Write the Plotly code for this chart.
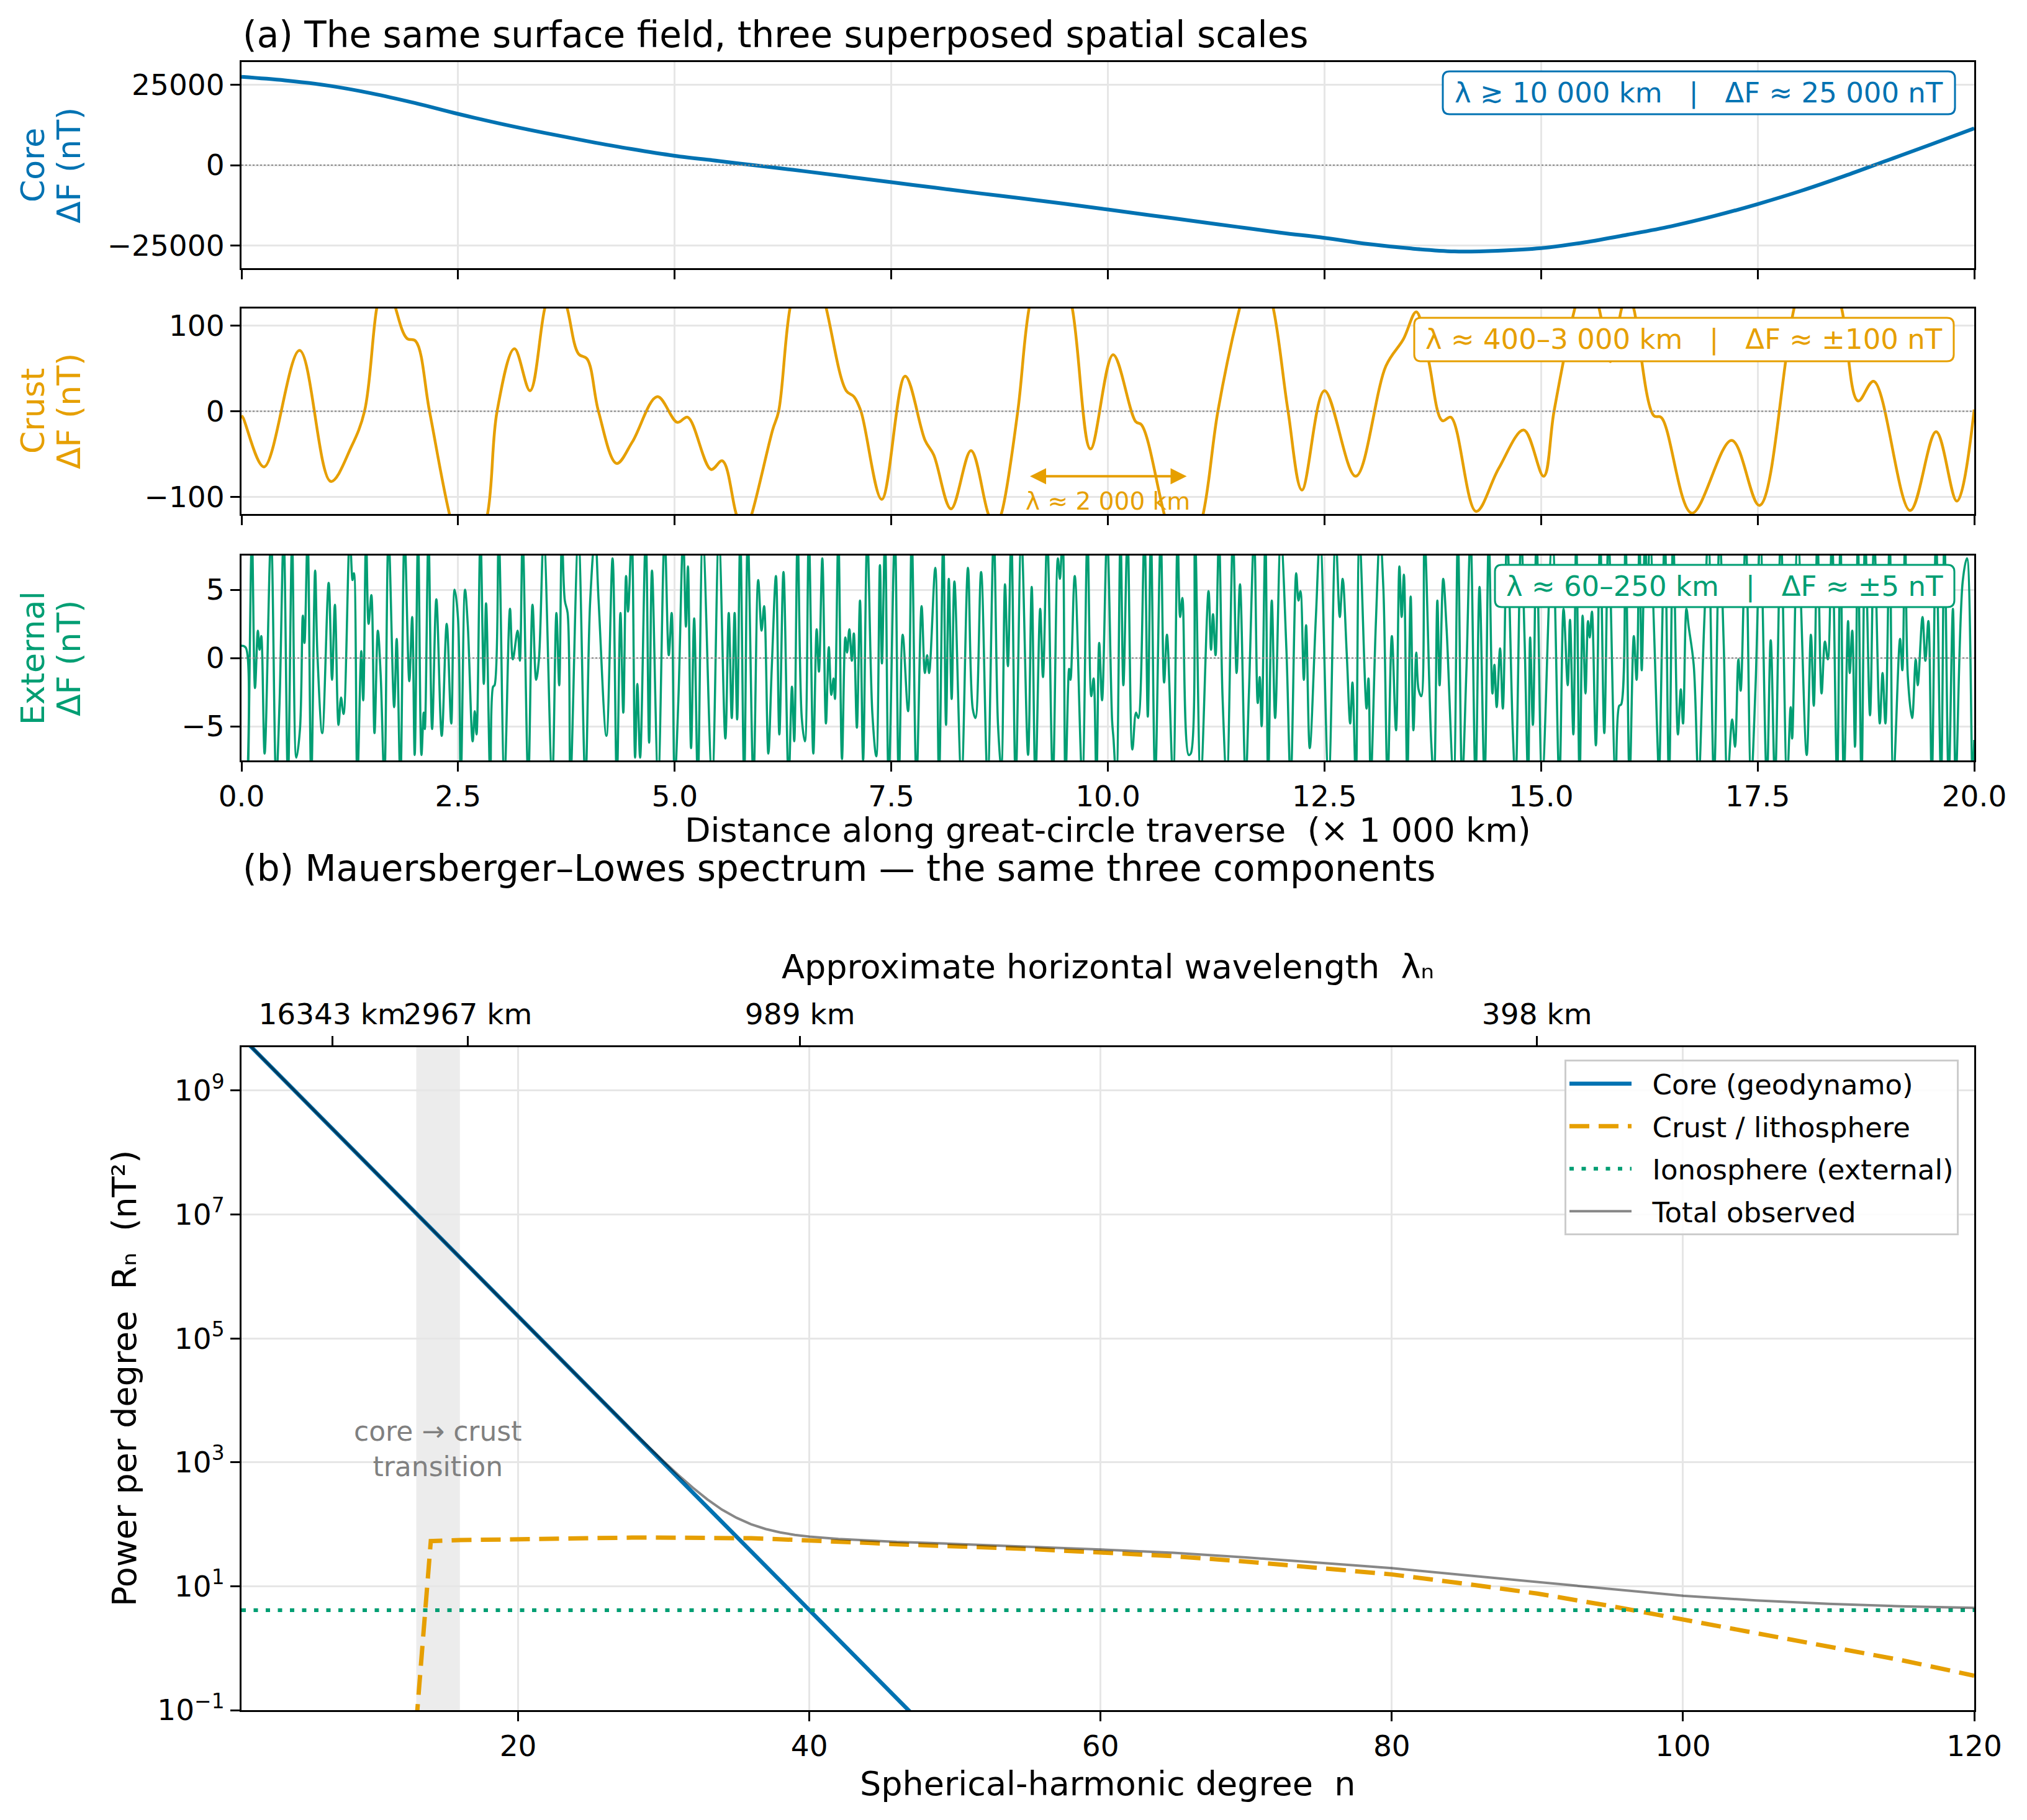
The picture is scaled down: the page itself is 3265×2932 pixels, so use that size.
import plotly.graph_objects as go

# ---------------- data ----------------
dist_core = [0, 0.5, 1, 1.5, 2, 2.5, 3, 3.5, 4, 4.5, 5, 5.5, 6, 6.5, 7, 7.5, 8, 8.5, 9, 9.5,
             10, 10.5, 11, 11.5, 12, 12.5, 13, 13.5, 14, 14.5, 15, 15.5, 16, 16.5, 17, 17.5,
             18, 18.5, 19, 19.5, 20]
core_dF = [27400, 26300, 24700, 22300, 19300, 15900, 12800, 10000, 7400, 5000, 2900, 1300, -300,
           -1900, -3600, -5300, -7000, -8700, -10300, -12000, -13800, -15600, -17400, -19200,
           -21000, -22600, -24500, -25900, -26800, -26600, -25800, -24000, -21600, -19000,
           -15800, -12100, -8000, -3400, 1500, 6400, 11400]

crust_x = [0.0, 0.02, 0.26, 0.67, 1.03, 1.27, 1.42, 1.56, 1.67, 1.78, 1.91, 2.01, 2.17, 2.40,
           2.62, 2.84, 2.95, 3.15, 3.33, 3.50, 3.63, 3.76, 3.89, 3.99, 4.12, 4.33, 4.51, 4.80,
           5.03, 5.15, 5.42, 5.55, 5.71, 5.80, 5.89, 6.13, 6.20, 6.33, 6.54, 6.75, 6.98, 7.07,
           7.15, 7.39, 7.66, 7.89, 7.99, 8.19, 8.42, 8.62, 8.70, 8.77, 8.96, 9.09, 9.34, 9.59,
           9.80, 10.06, 10.32, 10.39, 10.65, 10.87, 11.10, 11.27, 11.52, 11.72, 11.91, 12.08,
           12.24, 12.50, 12.86, 13.21, 13.41, 13.56, 13.70, 13.86, 13.96, 14.25, 14.51, 14.80,
           15.03, 15.15, 15.39, 15.53, 15.67, 15.80, 15.93, 16.00, 16.07, 16.30, 16.39, 16.74,
           17.20, 17.52, 17.92, 18.20, 18.47, 18.66, 18.84, 19.26, 19.56, 19.80, 20.0]
crust_dF = [-5, -8, -65, 71, -82, -41, 0, 120, 170, 120, 85, 82, 0, -120,
            -200, -120, 0, 73, 24, 120, 165, 120, 67, 61, 0, -61, -36, 17,
            -13, -7, -68, -58, -120, -145, -120, -22, 0, 120, 210, 120, 24, 17,
            0, -103, 41, -34, -51, -114, -46, -120, -135, -120, 0, 120, 230, 120,
            -44, 66, -12, -16, -120, -200, -120, 0, 120, 190, 120, 0,
            -92, 24, -76, 53, 84, 116, 60, -11, -7, -117, -67, -22,
            -76, 0, 120, 165, 120, 58, 120, 140, 120, -5, -7.5, -119,
            -34, -110, 120, 220, 120, 12, 35, -116, -24, -105, 2]

ext_x = [0.0, 0.049, 0.072, 0.120, 0.156, 0.189, 0.208, 0.228, 0.267, 0.341, 0.400, 0.439, 0.487,
         0.536, 0.584, 0.633, 0.675, 0.708, 0.727, 0.763, 0.805, 0.850, 0.876, 0.932, 1.006, 1.045,
         1.078, 1.120, 1.149, 1.178, 1.250, 1.282, 1.298, 1.337, 1.383, 1.405, 1.438, 1.467, 1.499,
         1.535, 1.574, 1.606, 1.649, 1.697, 1.762, 1.791, 1.834, 1.882, 1.937, 1.970, 1.999, 2.038,
         2.077, 2.103, 2.116, 2.158, 2.200, 2.249, 2.311, 2.369, 2.421, 2.460, 2.499, 2.531, 2.580,
         2.612, 2.668, 2.693, 2.713, 2.758, 2.797, 2.823, 2.872, 2.904, 2.921, 2.969, 3.034, 3.099,
         3.132, 3.187, 3.213, 3.245, 3.310, 3.359, 3.401, 3.433, 3.489, 3.586, 3.635, 3.667, 3.699,
         3.732, 3.764, 3.797, 3.888, 3.969, 4.024, 4.082, 4.121, 4.212, 4.283, 4.332, 4.374, 4.407,
         4.439, 4.462, 4.504, 4.543, 4.569, 4.601, 4.666, 4.705, 4.738, 4.809, 4.884, 4.932, 4.965,
         5.000, 5.043, 5.098, 5.130, 5.153, 5.189, 5.225, 5.267, 5.325, 5.432, 5.510, 5.585, 5.624,
         5.659, 5.692, 5.721, 5.757, 5.802, 5.844, 5.909, 5.964, 6.003, 6.032, 6.081, 6.120, 6.169,
         6.208, 6.256, 6.315, 6.354, 6.380, 6.419, 6.467, 6.503, 6.548, 6.600, 6.639, 6.665, 6.704,
         6.746, 6.779, 6.808, 6.834, 6.850, 6.889, 6.931, 6.970, 6.990, 7.016, 7.045, 7.068, 7.103,
         7.139, 7.175, 7.223, 7.282, 7.327, 7.369, 7.392, 7.428, 7.470, 7.541, 7.587, 7.632, 7.694,
         7.736, 7.791, 7.850, 7.888, 7.914, 7.937, 8.008, 8.051, 8.100, 8.132, 8.164, 8.197, 8.229,
         8.310, 8.385, 8.440, 8.472, 8.537, 8.612, 8.683, 8.732, 8.770, 8.813, 8.846, 8.885, 8.936,
         9.001, 9.079, 9.121, 9.164, 9.219, 9.251, 9.300, 9.365, 9.423, 9.446, 9.478, 9.511, 9.553,
         9.569, 9.618, 9.705, 9.764, 9.809, 9.835, 9.868, 9.900, 9.933, 9.991, 10.049, 10.065,
         10.098, 10.146, 10.179, 10.227, 10.283, 10.325, 10.351, 10.422, 10.461, 10.497, 10.546,
         10.610, 10.649, 10.682, 10.753, 10.805, 10.834, 10.860, 10.932, 10.957, 11.006, 11.071,
         11.162, 11.191, 11.214, 11.243, 11.282, 11.324, 11.373, 11.444, 11.486, 11.525, 11.590,
         11.629, 11.688, 11.730, 11.753, 11.775, 11.818, 11.850, 11.892, 11.931, 11.996, 12.061,
         12.110, 12.174, 12.200, 12.223, 12.262, 12.288, 12.330, 12.401, 12.450, 12.548, 12.629,
         12.677, 12.710, 12.758, 12.797, 12.823, 12.862, 12.904, 12.986, 13.008, 13.034, 13.093,
         13.141, 13.180, 13.229, 13.278, 13.326, 13.365, 13.391, 13.417, 13.456, 13.495, 13.527,
         13.560, 13.586, 13.618, 13.655, 13.732, 13.764, 13.803, 13.829, 13.871, 13.910, 13.991,
         14.040, 14.089, 14.137, 14.186, 14.244, 14.290, 14.348, 14.397, 14.439, 14.462, 14.488,
         14.527, 14.559, 14.608, 14.673, 14.705, 14.770, 14.809, 14.851, 14.874, 14.906, 14.948,
         15.013, 15.130, 15.211, 15.260, 15.308, 15.334, 15.373, 15.406, 15.445, 15.480, 15.513,
         15.542, 15.562, 15.587, 15.633, 15.682, 15.730, 15.779, 15.860, 15.902, 15.925, 15.974,
         16.022, 16.071, 16.103, 16.136, 16.162, 16.201, 16.228, 16.256, 16.347, 16.360, 16.428,
         16.477, 16.525, 16.580, 16.613, 16.639, 16.678, 16.704, 16.762, 16.817, 16.882, 16.931,
         16.996, 17.061, 17.109, 17.151, 17.206, 17.239, 17.278, 17.304, 17.362, 17.424, 17.476,
         17.531, 17.606, 17.651, 17.700, 17.768, 17.839, 17.881, 17.898, 17.963, 18.066, 18.115,
         18.148, 18.190, 18.238, 18.277, 18.310, 18.358, 18.417, 18.456, 18.495, 18.544, 18.563,
         18.592, 18.624, 18.657, 18.699, 18.741, 18.797, 18.845, 18.910, 18.942, 18.975, 19.024,
         19.066, 19.144, 19.170, 19.202, 19.234, 19.283, 19.325, 19.348, 19.403, 19.436, 19.471,
         19.510, 19.559, 19.617, 19.656, 19.705, 19.754, 19.786, 19.867, 19.916, 19.981, 20.0]
ext_dF = [0.9, 0.76, -9, 9, -2.2, 2.0, 0.6, 1.6, -7.0, 9, -9, -3.3, 9,
          -9, 8.5, -7.3, -5.2, 3.1, 1.1, 9, -9, 6.4, 0.3, -5.5, 5.5, -1.6,
          3.9, -4.9, -2.9, -4.1, 9, 5.7, 6.2, -9, 0.5, -3.1, 9, 2.5, 4.6,
          -5.5, 2.0, -1.2, -9, 9, -3.6, 1.4, -9, 9, -1.7, 3.0, -7.1, 9,
          -7.1, -4.0, -5.2, 9, -5.2, 4.3, -5.7, 2.5, -4.8, 5.0, 2.9, -9, 5.0,
          2.4, -6.1, -3.9, -5.6, 9, -1.9, 4.0, -9, -2.1, -2.0, 9, -9, 3.6,
          -0.1, 2.0, -0.2, 9, -9, 3.9, -1.6, -0.1, 9, -9, 3.3, -2.0, 9,
          4.2, 3.3, -9, 9, -9, 4.1, 9, 4.3, -5.7, 7.3, -9, 3.3, -4.0,
          6.0, 3.4, 9, -7.3, -1.9, -7.3, 9, -6.2, 6.4, -9, 9, 0.2, 3.3,
          -9, -3.0, 9, 2.3, 6.7, -6.6, 2.9, -9, 9, -9, 9, -5.9, 3.3,
          -4.4, 3.3, -4.5, 9, -9, 9, -9, 5.7, 2.0, 3.8, -7.0, -0.8, 6.0,
          -5.6, 6.3, -9, -2.1, -6.1, 9, -4.4, -6.1, 9, -7.0, 2.1, -1.0, 7.3,
          -4.8, 0.8, -2.7, -1.5, -3.0, 9, -7.4, 1.5, 0.4, 2.1, -0.2, 1.8, -5.1,
          4.2, -7.5, 9, -4.1, -7.2, 6.8, -0.4, 9, -9, 9, -9, 1.7, -3.9,
          9, -9, 3.8, -1.1, 0.2, -1.1, 6.6, -9, 9, -4.9, 5.8, -3.0, 5.6,
          -9, 6.6, -3.7, -4.4, 6.3, -9, 9, -4.9, -8, 5.4, -0.6, 9, -9,
          9, -7.1, 5.2, -9, 3.6, -1.4, 9, -9, 7.3, 5.8, 9, -9, -0.8,
          -1.6, 6.0, -9, 9, -2.8, -1.5, -9, 1.1, -3.1, 9, -4.6, -5.9,
          -9, 9, -2.0, 9, -6.7, -4.0, -4.4, 9, -4.3, 9, -9,
          9, -1.8, 1.7, -9, 9, 3.0, 4.4, -7.1, -7.0, 9, -9,
          4.9, 0.6, 3.2, 0.2, 9, -2.9, -9, 9, -1.1, 5.4, -9,
          -2.4, 9, -3.3, -1.4, -5.0, 9, -9, 4.2, -4.4, 9, 0.6,
          -9, 6.2, 4.2, 4.9, -1.6, 2.4, -6.6, 3.0, 9, -9, 9,
          3.0, 5.8, 0.2, -4.8, -1.8, -9, 9, -3.7, -1.5, -9, 2.5,
          9, 5.1, -9, 1.6, -5.3, 6.7, 3.0, 6.1, -9, 4.5, -5.3,
          0.4, -2.3, -2.8, 9, -6.1, -9, 4.2, -2.0, 5.8, 2.1, -9,
          9, -9, -1.2, 9, -9, 5.2, -9, 9, -2.6, -0.5, -3.6,
          0.7, -3.7, 9, -5.2, -9, 9, 1.6, -9, 1.5, -4.9, 9,
          -9, 9, -9, 3.6, -2.0, 2.8, -5.6, 9, -9, 3.1, -2.6,
          2.7, 1.5, 3.4, -6.4, 9, -5.5, 9, -9, -3.5, -3.4, 9,
          -9, 1.6, -1.6, 9, -0.9, 9, 4, 9, -6.7, -9, 9,
          -9, 9, -5.6, -2.3, -4.8, 3.6, 2.3, -0.5, -9, 2.3, 9,
          -9, 9, 0.9, -9, -4.5, -6.5, -0.1, -2.4, 9, -9, -2.0,
          9, -9, 1.3, -9, 9, -9, -3.6, -5.9, 9, -7.1, 1.7,
          -3.5, 9, -2.6, 1.2, -0.1, 9, -9, 9, -9, 2.7, -1.1,
          2.0, -6.5, 9, -9, 9, -4.2, 9, -4.8, -1.1, -4.8, 9,
          -9, 1.4, -0.9, 9, -1.4, -4.4, -0.1, -2.0, 3.0, -0.2, 2.7,
          -9, 9, -9, 9, -9, 3.6, -9, 5.6, 7.3, -9, -6]

# spectrum (degree n, power per degree in nT^2)
deg = [1, 5, 10, 13, 14, 16, 20, 25, 28, 29, 30, 31, 32, 33, 34, 35, 36, 37, 38, 39, 40,
       42, 44, 46, 48, 50, 55, 60, 65, 70, 75, 80, 85, 90, 95, 100, 105, 110, 115, 120]
R_core = [7.3e9, 8.2e8, 5.35e7, 1.04e7, 6.0e6, 2.0e6, 2.27e5, 1.48e4, 2870, 1663, 964, 558,
          324, 187, 108, 62.8, 36.4, 21.1, 12.2, 7.07, 4.09, 1.37, 0.46, 0.155, 0.052,
          None, None, None, None, None, None, None, None, None, None, None, None, None, None, None]
R_crust = [None, None, None, 0.06, 53.5, 55.5, 58, 60.5, 61, 61, 61, 61, 60.8, 60.5, 60.3,
           60, 59.5, 58.5, 57.5, 56.3, 55, 52.5, 50, 47.5, 46, 44, 40, 35, 30.5, 25, 19.8,
           15.5, 11, 7.6, 4.8, 2.9, 1.8, 1.1, 0.64, 0.36]
R_total = [7.3e9, 8.2e8, 5.35e7, 1.04e7, 6.0e6, 2.0e6, 2.27e5, 1.49e4, 2935, 1728, 1029, 623,
           389, 251, 172, 127, 100, 83.7, 73.8, 67.4, 63.2, 58, 54.5, 51.8, 50.2, 48.1, 44.1,
           39.1, 34.6, 29.1, 23.9, 19.6, 15.1, 11.7, 8.9, 7.0, 5.9, 5.2, 4.74, 4.46]
iono_n = [1, 120]
R_iono = [4.1, 4.1]

top_tick_pos = [7.23, 16.54, 39.36, 89.97]
top_tick_txt = ["16343 km", "2967 km", "989 km", "398 km"]

BLUE, ORANGE, GREEN = "#0072B2", "#E69F00", "#009E73"
FONT = "DejaVu Sans"

# ---------------- layout helpers ----------------
W, H = 3265, 2932
def px(x): return x / W
def py(y): return 1 - y / H

XD = [px(389), px(3180)]
axis_common = dict(showline=True, linecolor="black", linewidth=3, mirror=True,
                   ticks="outside", ticklen=15, tickwidth=3, tickcolor="black",
                   showgrid=True, gridcolor="#e6e6e6", gridwidth=2.5, zeroline=False,
                   tickangle=0, automargin=False,
                   tickfont=dict(size=47, color="black", family=FONT))

fig = go.Figure()

fig.add_trace(go.Scatter(x=dist_core, y=core_dF, mode="lines", xaxis="x", yaxis="y",
                         line=dict(color=BLUE, width=6, shape="spline"), showlegend=False))
fig.add_trace(go.Scatter(x=crust_x, y=crust_dF, mode="lines", xaxis="x2", yaxis="y2",
                         line=dict(color=ORANGE, width=4.5, shape="spline"), showlegend=False))
fig.add_trace(go.Scatter(x=ext_x, y=ext_dF, mode="lines", xaxis="x3", yaxis="y3",
                         line=dict(color=GREEN, width=3.5, shape="spline"), showlegend=False))

PAD = "\u00a0\u00a0"
fig.add_trace(go.Scatter(x=deg, y=R_core, mode="lines", xaxis="x4", yaxis="y4",
                         name=PAD + "Core (geodynamo)", legendgroup="a",
                         line=dict(color=BLUE, width=6.5)))
fig.add_trace(go.Scatter(x=deg, y=R_crust, mode="lines", xaxis="x4", yaxis="y4",
                         name=PAD + "Crust / lithosphere", legendgroup="b",
                         line=dict(color=ORANGE, width=7, dash="32px,15px")))
fig.add_trace(go.Scatter(x=iono_n, y=R_iono, mode="lines", xaxis="x4", yaxis="y4",
                         name=PAD + "Ionosphere (external)", legendgroup="c",
                         line=dict(color=GREEN, width=6, dash="7px,12.5px")))
fig.add_trace(go.Scatter(x=deg, y=R_total, mode="lines", xaxis="x4", yaxis="y4",
                         name=PAD + "Total observed", legendgroup="d",
                         line=dict(color="rgba(0,0,0,0.47)", width=4)))
# carrier trace for the top (wavelength) axis
fig.add_trace(go.Scatter(x=[1, 120], y=[1, 1], mode="lines", xaxis="x5", yaxis="y4",
                         line=dict(width=0, color="rgba(0,0,0,0)"), showlegend=False,
                         hoverinfo="skip"))

xt = [0, 2.5, 5, 7.5, 10, 12.5, 15, 17.5, 20]
xtt = ["0.0", "2.5", "5.0", "7.5", "10.0", "12.5", "15.0", "17.5", "20.0"]

layout = dict(
    width=W, height=H, margin=dict(l=0, r=0, t=0, b=0, autoexpand=False),
    paper_bgcolor="white", plot_bgcolor="white",
    font=dict(family=FONT, color="black", size=46),
    xaxis=dict(axis_common, domain=XD, anchor="y", range=[0, 20], tickvals=xt, showticklabels=False),
    yaxis=dict(axis_common, domain=[py(432), py(100)], anchor="x", range=[-32000, 32000],
               tickvals=[-25000, 0, 25000], ticktext=["\u221225000", "0", "25000"]),
    xaxis2=dict(axis_common, domain=XD, anchor="y2", range=[0, 20], tickvals=xt, showticklabels=False),
    yaxis2=dict(axis_common, domain=[py(828), py(497)], anchor="x2", range=[-120, 120],
                tickvals=[-100, 0, 100], ticktext=["\u2212100", "0", "100"]),
    xaxis3=dict(axis_common, domain=XD, anchor="y3", range=[0, 20], tickvals=xt, ticktext=xtt),
    yaxis3=dict(axis_common, domain=[py(1225), py(895)], anchor="x3", range=[-7.5, 7.5],
                tickvals=[-5, 0, 5], ticktext=["\u22125", "0", "5"]),
    xaxis4=dict(axis_common, domain=XD, anchor="y4", range=[1, 120],
                tickvals=[20, 40, 60, 80, 100, 120], ticktext=["20", "40", "60", "80", "100", "120"]),
    yaxis4=dict(axis_common, domain=[py(2755), py(1687)], anchor="x4", type="log", range=[-1, 9.7],
                tickvals=[0.1, 10, 1e3, 1e5, 1e7, 1e9],
                ticktext=["10<sup>\u22121</sup>", "10<sup>1</sup>", "10<sup>3</sup>",
                          "10<sup>5</sup>", "10<sup>7</sup>", "10<sup>9</sup>"]),
    xaxis5=dict(axis_common, overlaying="x4", anchor="y4", side="top", range=[1, 120],
                showgrid=False, mirror=False, tickvals=top_tick_pos, ticktext=top_tick_txt),
    legend=dict(x=px(3155), y=py(1707), xanchor="right", yanchor="top",
                bgcolor="rgba(255,255,255,0.85)", bordercolor="#cccccc", borderwidth=3,
                font=dict(size=45, family=FONT, color="black"), itemwidth=100,
                traceorder="grouped", tracegroupgap=7),
)
fig.update_layout(**layout)

def rrect(x0, y0, x1, y1, r=11):
    """rounded rectangle path in paper coords from pixel box"""
    def P(x, y): return f"{px(x):.6f},{py(y):.6f}"
    return (f"M {P(x0 + r, y0)} L {P(x1 - r, y0)} Q {P(x1, y0)} {P(x1, y0 + r)} "
            f"L {P(x1, y1 - r)} Q {P(x1, y1)} {P(x1 - r, y1)} L {P(x0 + r, y1)} "
            f"Q {P(x0, y1)} {P(x0, y1 - r)} L {P(x0, y0 + r)} Q {P(x0, y0)} {P(x0 + r, y0)} Z")

shapes = []
for yr in ["y", "y2", "y3"]:
    xr = {"y": "x", "y2": "x2", "y3": "x3"}[yr]
    shapes.append(dict(type="line", xref=f"{xr} domain", yref=yr, x0=0, x1=1, y0=0, y1=0,
                       line=dict(color="#888888", width=2, dash="dot"), layer="above"))
shapes.append(dict(type="rect", xref="x4", yref="y4 domain", x0=13, x1=16, y0=0, y1=1,
                   fillcolor="rgba(128,128,128,0.15)", line=dict(width=0), layer="below"))
boxes = [((2324, 115, 3149, 184), BLUE), ((2278, 512, 3147, 582), ORANGE),
         ((2408, 910, 3148, 978), GREEN)]
for (bx0, by0, bx1, by1), col in boxes:
    shapes.append(dict(type="path", xref="paper", yref="paper", path=rrect(bx0, by0, bx1, by1),
                       fillcolor="white", line=dict(color=col, width=3), layer="above"))
fig.update_layout(shapes=shapes)

ann = []
def text(x, y, s, size, color="black", xanchor="center", yanchor="middle", angle=0, **kw):
    ann.append(dict(x=x, y=y, xref="paper", yref="paper", text=s, showarrow=False,
                    xanchor=xanchor, yanchor=yanchor, textangle=angle,
                    font=dict(size=size, color=color, family=FONT), **kw))

text(px(389), py(56), "(a) The same surface field, three superposed spatial scales", 58, xanchor="left")
text(px(389), py(1399), "(b) Mauersberger\u2013Lowes spectrum \u2014 the same three components", 58, xanchor="left")
for yc, name, col in [(266, "Core", BLUE), (662, "Crust", ORANGE), (1060, "External", GREEN)]:
    text(px(53), py(yc), name, 52, col, angle=-90)
    text(px(111), py(yc), "\u0394F (nT)", 52, col, angle=-90)
text(px(1784), py(1337), "Distance along great-circle traverse  (\u00d7 1 000 km)", 54)
text(px(1784), py(2873), "Spherical-harmonic degree  n", 54)
text(px(1784), py(1557), "Approximate horizontal wavelength  \u03bb\u2099", 54)
text(px(200), py(2221), "Power per degree  R\u2099  (nT\u00b2)", 54, angle=-90)

text(px(2736.5), py(149.5), "\u03bb \u2273 10 000 km   |   \u0394F \u2248 25 000 nT", 45, BLUE)
text(px(2712.5), py(547), "\u03bb \u2248 400\u20133 000 km   |   \u0394F \u2248 \u00b1100 nT", 45, ORANGE)
text(px(2778), py(944), "\u03bb \u2248 60\u2013250 km   |   \u0394F \u2248 \u00b15 nT", 45, GREEN)

# double arrow in crust panel
ann.append(dict(x=10.91, y=-76, ax=9.09, ay=-76, xref="x2", yref="y2", axref="x2", ayref="y2",
                text="", showarrow=True, arrowside="end+start", arrowhead=2, arrowsize=1.3,
                arrowwidth=4, arrowcolor=ORANGE))
ann.append(dict(x=10, y=-105, xref="x2", yref="y2", text="\u03bb \u2248 2 000 km", showarrow=False,
                font=dict(size=39, color=ORANGE, family=FONT)))
ann.append(dict(x=14.5, y=3.217, xref="x4", yref="y4", text="core \u2192 crust<br>transition",
                showarrow=False, font=dict(size=44, color="#808080", family=FONT)))
fig.update_layout(annotations=ann)

fig.write_html("out.html")
